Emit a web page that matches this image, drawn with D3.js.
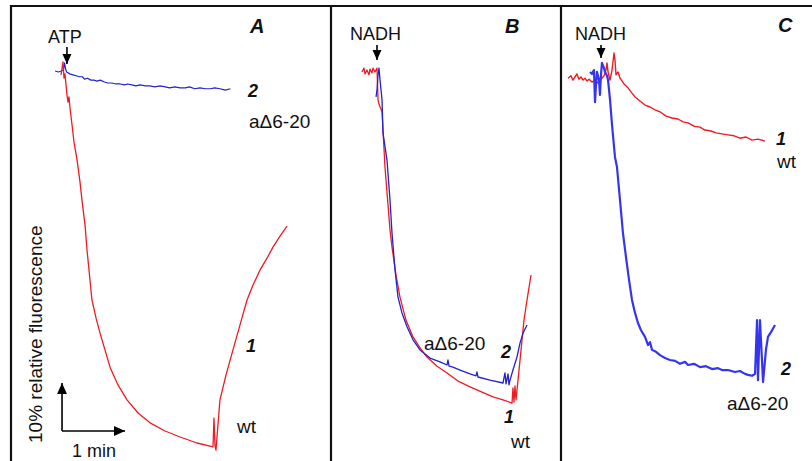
<!DOCTYPE html>
<html>
<head>
<meta charset="utf-8">
<script src="https://cdn.jsdelivr.net/npm/d3@7"></script>
<style>
  body { margin: 0; background: #fff; }
  text { font-family: Arial, "Liberation Sans", sans-serif; }
</style>
</head>
<body>
<script>
// traces: [time (s), relative fluorescence (%)]
let redA = [[47.6,79.2],[48.6,80.6],[49.5,81.9],[50.5,78.5],[51.4,79.4],[52.4,77.1],[53.3,75.0],[54.3,73.5],[55.2,74.6],[56.2,72.3],
  [58.1,68.8],[60,65.2],[62.9,61.5],[65.7,56.9],[67.6,53.1],[70.5,47.9],[72.4,42.7],[75.2,36.5],[77.1,32.3],[81,28.5],
  [84.8,25.4],[89.5,21.9],[94.3,18.3],[101.9,14.6],[110.5,11.5],[121,8.75],[132.4,6.7],[146.7,5.0],[161,3.75],[177.1,2.5],
  [192.4,1.7],[193.3,7.7],[194.3,1.9],[195.2,1.0],[197.1,6.25],[199,11.5],[204.8,16.7],[211.4,21.9],[218.1,27.1],[224.8,32.3],
  [230.5,35.4],[237.1,38.5],[243.8,41.0],[249.5,43.3],[256.2,45.6],[262.9,47.7]];
let blueA = [[42,80.0],[45,79.8],[48,80.0],[50,80.2],[50.5,81.0],[51,81.7],[52,80.4],[53,79.8],[56,79.4],[59,79.2],
  [62,79.0],[65,78.8],[68,78.8],[70,78.3],[73,78.5],[76,78.1],[79,78.1],[82,77.9],[85,78.1],[89,77.7],
  [92,77.5],[96,77.5],[100,77.3],[104,77.3],[108,77.1],[111,77.3],[115,77.1],[119,76.9],[123,77.1],[128,76.9],
  [132,76.9],[137,76.7],[142,76.9],[147,76.7],[151,76.5],[156,76.7],[161,76.5],[166,76.5],[170,76.7],[175,76.3],
  [180,76.5],[185,76.3],[190,76.3],[194,76.5],[199,76.3],[204,76.0],[209,76.3]];
let redB = [[29.5,79.8],[31.4,80.6],[32.4,79.4],[34.3,80.2],[36.2,79.2],[37.1,80.4],[39.0,79.6],[40.0,80.6],[41.9,79.8],[43.8,80.6],
  [44.8,74.0],[45.7,73.1],[48.6,71.5],[51.4,60.0],[54.3,52.1],[56.2,46.9],[58.1,43.3],[61.9,37.5],[65.7,32.9],[71.4,28.1],
  [78.1,24.6],[84.8,22.3],[91.4,20.4],[101.0,18.5],[110.5,17.1],[121.0,15.4],[132.4,14.2],[143.8,13.1],[154.3,12.1],[163.8,11.5],
  [172.4,10.8],[173.3,14.0],[174.3,11.0],[175.2,14.4],[176.2,11.5],[178.1,15.6],[181.0,21.9],[183.8,28.1],[186.7,32.3],[190.5,37.5]];
let blueB = [[42.9,74.6],[43.8,76.0],[44.8,79.2],[45.7,80.6],[46.7,78.1],[48.6,74.0],[49.5,67.1],[53.3,61.5],[56.2,53.1],[58.1,46.25],
  [61.0,38.5],[63.8,32.9],[67.6,29.6],[72.4,26.7],[78.1,24.0],[84.8,21.9],[94.3,20.2],[103.8,19.4],[110.5,18.75],[111.4,19.8],
  [112.4,18.5],[116.2,18.3],[122.9,17.7],[132.4,16.9],[138.1,16.5],[139.0,17.3],[140.0,16.25],[151.4,15.6],[163.8,15.0],[165.7,17.1],
  [166.7,14.8],[168.6,16.9],[169.5,14.6],[170.5,15.6],[173.3,17.7],[177.1,20.4],[180,23.3],[182.9,25.4],[186.7,27.1]];
let redC = [[6.7,78.5],[9.5,79.0],[11.4,78.1],[13.3,78.75],[15.2,79.4],[17.1,78.3],[19.0,78.75],[21.0,78.1],[22.9,78.5],[24.8,77.9],
  [26.7,78.3],[29.5,77.7],[32.4,78.1],[35.2,77.5],[38.1,78.3],[41.0,79.0],[42.9,80.2],[43.8,81.7],[44.8,79.8],[46.7,78.1],
  [48.6,80.2],[50.5,83.75],[51.4,82.3],[52.4,79.2],[54.3,79.8],[56.2,78.5],[60.0,77.3],[63.8,76.5],[67.6,75.4],[70.5,74.6],
  [75.2,73.75],[80.0,72.9],[84.8,72.5],[89.5,71.9],[94.3,71.5],[100,70.6],[105.7,70.2],[111.4,70.0],[116.2,69.4],[121.0,69.2],
  [126.7,68.5],[132.4,68.3],[137.1,67.7],[142.9,67.5],[147.6,67.1],[153.3,66.9],[159.0,66.7],[164.8,66.5],[170.5,66.0],[176.2,66.25],
  [181.9,65.6],[187.6,65.8],[194.3,65.4]];
let blueC = [[27.6,79.8],[29.5,79.4],[31.4,80.2],[32.4,73.5],[33.3,77.1],[34.3,79.8],[36.2,78.1],[37.1,75.0],[38.1,79.2],[39.0,81.7],
  [41.0,80.6],[41.9,79.8],[43.8,79.0],[44.8,78.1],[46.7,74.0],[48.6,68.75],[51.4,62.1],[53.3,60.0],[56.2,53.1],[59.0,46.25],
  [61.9,41.2],[64.8,36.5],[67.6,32.3],[70.5,29.6],[73.3,27.5],[76.2,26.0],[80.0,24.6],[82.9,22.9],[84.8,23.5],[86.7,21.9],
  [90.5,21.5],[94.3,20.8],[99.0,20.2],[103.8,19.8],[108.6,19.6],[113.3,19.0],[118.1,19.4],[121.0,18.75],[126.7,19.0],[132.4,18.3],
  [138.1,18.5],[143.8,17.9],[149.5,18.1],[153.3,17.7],[159.0,17.7],[165.7,17.3],[170.5,17.5],[175.2,16.9],[178.1,16.7],[181.9,16.5],
  [184.8,16.9],[186.7,28.1],[187.6,15.6],[189.5,28.1],[191.4,19.8],[192.4,15.2],[195.2,21.9],[197.1,24.6],[200.0,25.6],[203.8,27.1]];

let panelNames = ['A', 'B', 'C'];
let triggers = ['ATP', 'NADH', 'NADH'];
let triggerTimes = [53.3, 43.8, 38.1];

let W = 812, H = 461;
let red = '#f01a22', blue = '#2222d0', blueC_col = '#3535f0';

let svg = d3.select('body')
  .append('svg')
    .attr('width', W)
    .attr('height', H);

// three panels side by side, shared 1.05 px/s and 4.8 px/% scale
let y = d3.scaleLinear().domain([0, 80]).range([455, 71]);
let xA = d3.scaleLinear().domain([0, 300]).range([11, 326]);
let xB = d3.scaleLinear().domain([0, 220]).range([331, 562]);
let xC = d3.scaleLinear().domain([0, 240]).range([561, 813]);
let xs = [xA, xB, xC];

// frame
svg.append('line').attr('x1', 10).attr('x2', W).attr('y1', 6).attr('y2', 6)
  .attr('stroke', '#111').attr('stroke-width', 2.2);
[11, 331, 561].forEach(function(px) {
  svg.append('line').attr('x1', px).attr('x2', px).attr('y1', 5).attr('y2', H)
    .attr('stroke', '#111').attr('stroke-width', 2.2);
});

function AddTrace(data, x, col, w) {
  let line = d3.line().x(d => x(d[0])).y(d => y(d[1]));
  return svg.append('path')
    .attr('d', line(data))
    .attr('fill', 'none')
    .attr('stroke', col)
    .attr('stroke-width', w)
    .attr('stroke-linejoin', 'round');
}

function AddText(t, px, py, sz, bold) {
  return svg.append('text')
    .attr('x', px).attr('y', py)
    .attr('font-size', sz)
    .attr('font-weight', bold ? 'bold' : 'normal')
    .attr('font-style', bold ? 'italic' : 'normal')
    .attr('fill', '#111')
    .text(t);
}

// line with a filled triangular head at (x2,y2)
function AddArrow(x1, y1, x2, y2, head) {
  svg.append('line').attr('x1', x1).attr('y1', y1).attr('x2', x2).attr('y2', y2)
    .attr('stroke', '#000').attr('stroke-width', 1.6);
  let a = Math.atan2(y2 - y1, x2 - x1);
  let p = [[x2, y2],
    [x2 - head*Math.cos(a) + head*0.45*Math.sin(a), y2 - head*Math.sin(a) - head*0.45*Math.cos(a)],
    [x2 - head*Math.cos(a) - head*0.45*Math.sin(a), y2 - head*Math.sin(a) + head*0.45*Math.cos(a)]];
  svg.append('polygon').attr('points', p.map(d => d.join(',')).join(' ')).attr('fill', '#000');
}

AddTrace(blueA, xA, blue, 1.2);
AddTrace(redA, xA, red, 1.3);
AddTrace(redB, xB, red, 1.3);
AddTrace(blueB, xB, blue, 1.3);
AddTrace(redC, xC, red, 1.4);
AddTrace(blueC, xC, blueC_col, 2.2);

// trigger labels
let trigX = [48, 350, 575];
let trigTop = [47, 45, 45];
let trigBot = [64, 60, 58];
for (let i = 0; i < 3; i++) {
  AddText(triggers[i], trigX[i], 43 - (i ? 3 : 0), 18, false);
  let ax = xs[i](triggerTimes[i]);
  AddArrow(ax, trigTop[i], ax, trigBot[i], 10);
}

// panel letters
AddText(panelNames[0], 250, 33, 20, true);
AddText(panelNames[1], 505, 33, 20, true);
AddText(panelNames[2], 778, 32, 20, true);

// trace labels
AddText('2', 248, 97, 18, true);
AddText('a\u03946-20', 249, 128, 19, false);
AddText('1', 246, 352, 18, true);
AddText('wt', 237, 433, 19, false);

AddText('a\u03946-20', 424, 350, 19, false);
AddText('2', 501, 358, 18, true);
AddText('1', 504, 423, 18, true);
AddText('wt', 511, 448, 19, false);

AddText('1', 776, 145, 18, true);
AddText('wt', 777, 168, 19, false);
AddText('2', 781, 375, 18, true);
AddText('a\u03946-20', 727, 410, 19, false);

// scale bar
AddArrow(xA(48.6), y(5), xA(48.6), y(15), 11);
AddArrow(xA(48.6), y(5), xA(108.6), y(5), 11);
AddText('1 min', 72, 457, 18, false);
svg.append('text')
  .attr('transform', 'translate(42,443) rotate(-90)')
  .attr('font-size', 19)
  .attr('fill', '#111')
  .text('10% relative fluorescence');
</script>
</body>
</html>
